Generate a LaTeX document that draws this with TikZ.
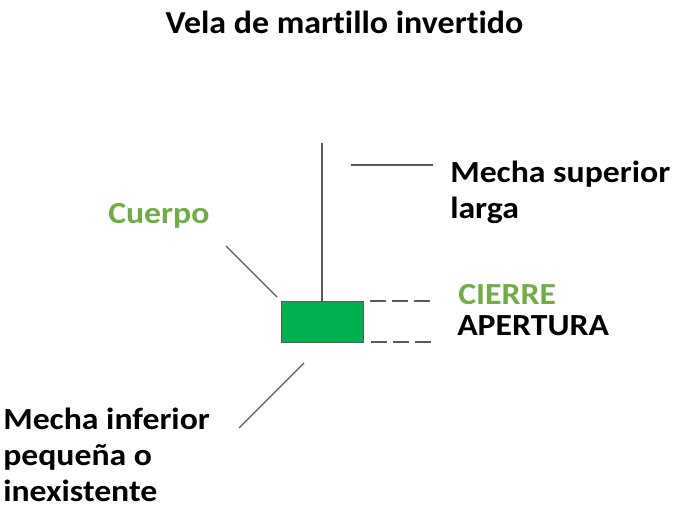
\documentclass[tikz,border=0pt]{standalone}
\usepackage{fontspec}
\setmainfont[Ligatures=NoCommon]{Carlito}
\newfontfamily\lblfont[FakeStretch=1.1,Ligatures=NoCommon]{Carlito}
\newfontfamily\titlefont[FakeStretch=1.06,Ligatures=NoCommon]{Carlito}
\definecolor{candle}{HTML}{00B050}
\definecolor{lblgreen}{HTML}{70AD47}
\definecolor{linegray}{HTML}{595959}
\begin{document}
\begin{tikzpicture}[x=0.75pt,y=-0.75pt,
  lbl/.style={anchor=base west,inner sep=0pt,font=\lblfont\fontsize{23}{27}\selectfont\bfseries,align=left},
  leader/.style={draw=linegray,line width=1pt},
  dashleader/.style={draw=linegray,line width=1.2pt,dash pattern=on 12pt off 4.5pt}]
\useasboundingbox (0,0) rectangle (680,520);
\node[anchor=base,inner sep=0pt,font=\titlefont\fontsize{24}{28}\selectfont\bfseries] (title) at (344.5,34) {Vela de martillo invertido};
% candle
\node[draw=linegray,fill=candle,line width=0.8pt,minimum width=82*0.75pt,minimum height=41*0.75pt,inner sep=0pt,anchor=north west] (body) at (281,301) {};
\coordinate (wicktop) at (322,143);
\draw[leader] (wicktop) -- (body.north -| wicktop);
% labels
\node[lbl] (sup) at (450,218) {Mecha superior\\larga};
\node[lbl,text=lblgreen] (cuerpo) at (108,223) {Cuerpo};
\node[lbl,text=lblgreen] (cierre) at (458,304) {CIERRE};
\node[lbl] (apertura) at (457,335) {APERTURA};
\node[lbl] (inf) at (3,501) {Mecha inferior\\peque\~na o\\inexistente};
% leader lines
\coordinate (s1) at (351,165); \coordinate (s2) at (433,165);
\draw[leader] (s1) -- (s2);
\coordinate (c1) at (226,246); \coordinate (c2) at (277,297);
\draw[leader] (c1) -- (c2);
\coordinate (i1) at (304,363); \coordinate (i2) at (239,428);
\draw[leader] (i1) -- (i2);
\coordinate (d1) at (370,301); \coordinate (d2) at (433,301);
\draw[dashleader] (d1) -- (d2);
\coordinate (e1) at (371,342); \coordinate (e2) at (433,342);
\draw[dashleader] (e1) -- (e2);
\end{tikzpicture}
\end{document}
